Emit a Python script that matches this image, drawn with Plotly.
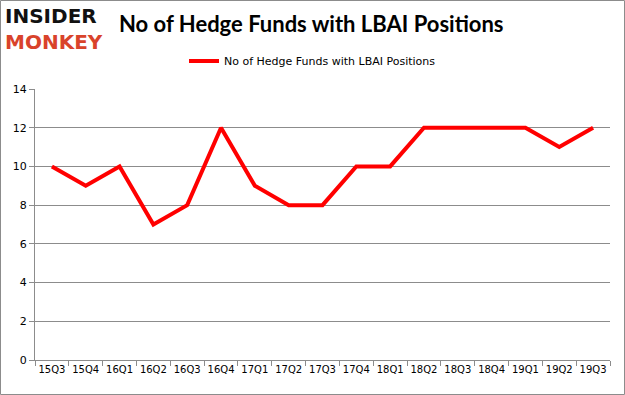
import plotly.graph_objects as go

quarters = ["15Q3", "15Q4", "16Q1", "16Q2", "16Q3", "16Q4", "17Q1", "17Q2", "17Q3",
            "17Q4", "18Q1", "18Q2", "18Q3", "18Q4", "19Q1", "19Q2", "19Q3"]
hedge_funds = [10, 9, 10, 7, 8, 12, 9, 8, 8, 10, 10, 12, 12, 12, 12, 11, 12]
y_ticks = [0, 2, 4, 6, 8, 10, 12, 14]
series_name = "No of Hedge Funds with LBAI Positions"

W, H = 625, 395
ML, MR, MT, MB = 35, 15, 89, 35
pw, ph = W - ML - MR, H - MT - MB

def px(x):
    return (x - ML) / pw

def py(y):
    return (H - MB - y) / ph

fig = go.Figure()
fig.add_trace(go.Scatter(
    x=quarters, y=hedge_funds, mode="lines", name=series_name,
    line=dict(color="#ff0000", width=4),
))

fig.update_layout(
    width=W, height=H,
    margin=dict(l=ML, r=MR, t=MT, b=MB, autoexpand=False),
    paper_bgcolor="white", plot_bgcolor="white",
    showlegend=True,
    legend=dict(orientation="h", xref="container", yref="container",
                x=0.5, xanchor="center", y=1 - 61 / H, yanchor="middle",
                font=dict(family="DejaVu Sans", size=11, color="#000000"),
                bgcolor="rgba(0,0,0,0)", itemwidth=30),
    xaxis=dict(
        type="category", showgrid=False, showline=True, linecolor="#8c8c8c", linewidth=1,
        ticks="outside", ticklen=5, tickcolor="#8c8c8c", tickson="boundaries",
        tickangle=0, automargin=False,
        tickfont=dict(family="DejaVu Sans", size=10, color="#000000"),
        range=[-0.5, len(quarters) - 0.5],
    ),
    yaxis=dict(
        range=[0, 14], tickvals=y_ticks, showgrid=True, gridcolor="#8c8c8c", gridwidth=1,
        showline=True, linecolor="#8c8c8c", linewidth=1, automargin=False,
        ticks="outside", ticklen=5, tickcolor="#8c8c8c",
        tickfont=dict(family="DejaVu Sans", size=11, color="#000000"),
        zeroline=False,
    ),
    annotations=[
        dict(text="<b>No of Hedge Funds with LBAI Positions</b>", xref="paper", yref="paper",
             x=px(311), y=py(24), xanchor="center", yanchor="middle", showarrow=False,
             font=dict(family="Lato", size=22, color="#000000")),
        dict(text="<b>INSIDER</b><br><b><span style='color:#d9432b'>MONKEY</span></b>",
             xref="paper", yref="paper", align="left",
             x=px(3), y=py(29), xanchor="left", yanchor="middle", showarrow=False,
             font=dict(family="DejaVu Sans", size=20, color="#111111")),
    ],
    shapes=[
        dict(type="rect", xref="paper", yref="paper",
             x0=px(0.5), x1=px(W - 0.5), y0=py(0.5), y1=py(H - 0.5),
             line=dict(color="#8c8c8c", width=1), fillcolor="rgba(0,0,0,0)", layer="below"),
    ],
)

fig.write_html("out.html", config={"displayModeBar": False},
               post_script="document.body.style.margin='0';document.body.style.padding='0';")
